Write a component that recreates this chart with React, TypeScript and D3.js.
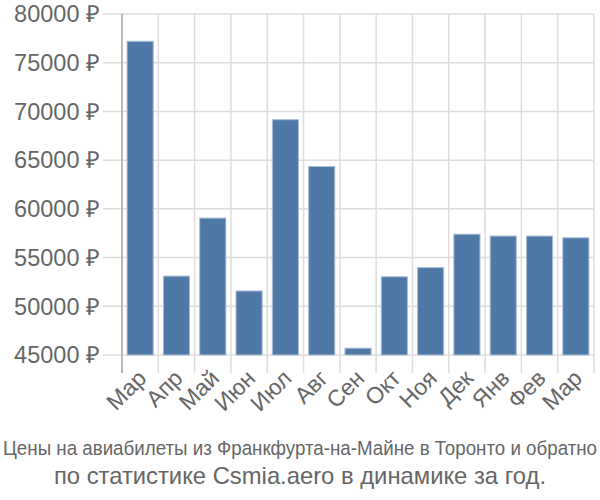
import React from "react";
import * as d3 from "d3";

const months = ["Мар", "Апр", "Май", "Июн", "Июл", "Авг", "Сен", "Окт", "Ноя", "Дек", "Янв", "Фев", "Мар"];
const prices = [77200, 53100, 59050, 51570, 69150, 64350, 45700, 53030, 53970, 57400, 57210, 57210, 57030];
const yTicks = [45000, 50000, 55000, 60000, 65000, 70000, 75000, 80000];
const titleLines = [
  "Цены на авиабилеты из Франкфурта-на-Майне в Торонто и обратно",
  "по статистике Csmia.aero в динамике за год.",
];

export default function App() {
  const W = 600, H = 500;
  const left = 122, right = 594, top = 14, bottom = 355;
  const x = d3.scaleBand<number>().domain(d3.range(months.length)).range([left, right]).paddingInner(0.28).paddingOuter(0.14);
  const y = d3.scaleLinear().domain([45000, 80000]).range([bottom, top]);
  const step = x.step();
  const font = "'Liberation Sans', Arial, sans-serif";
  const textColor = "#666";
  return (
    <svg width={W} height={H} style={{ position: "absolute", left: 0, top: 0, background: "#fff" }} fontFamily={font}>
      {yTicks.map((t) => (
        <line key={"h" + t} x1={103} x2={right} y1={y(t)} y2={y(t)} stroke="#ddd" strokeWidth={1.5} />
      ))}
      {d3.range(months.length + 1).map((i) => {
        const xx = left + i * step;
        return <line key={"v" + i} x1={xx} x2={xx} y1={top} y2={bottom + 18} stroke="#ddd" strokeWidth={1.5} />;
      })}
      <line x1={left} x2={left} y1={top} y2={bottom + 18} stroke="#aaa" strokeWidth={1.5} />
      {prices.map((v, i) => (
        <rect key={"b" + i} x={x(i)!} y={y(v)} width={x.bandwidth()} height={bottom - y(v)} fill="#4e79a7" stroke="#a9bfd8" strokeWidth={1} />
      ))}
      {yTicks.map((t) => (
        <text key={"yl" + t} x={100} y={y(t)} dy="0.35em" textAnchor="end" fontSize={23.5} fill={textColor}>
          {t} ₽
        </text>
      ))}
      {months.map((m, i) => {
        const cx = x(i)! + x.bandwidth() / 2 + 2;
        const cy = bottom + 19;
        return (
          <text key={"xl" + i} transform={`translate(${cx},${cy}) rotate(-45)`} textAnchor="end" fontSize={23} fill={textColor} dy="0.35em">
            {m}
          </text>
        );
      })}
      <text transform={`translate(${W / 2},455) scale(1,1.12)`} x={0} y={0} textAnchor="middle" fontSize={18.5} fill={textColor} textLength={594} lengthAdjust="spacingAndGlyphs">
        {titleLines[0]}
      </text>
      <text x={W / 2} y={484} textAnchor="middle" fontSize={23.8} fill={textColor}>
        {titleLines[1]}
      </text>
    </svg>
  );
}
